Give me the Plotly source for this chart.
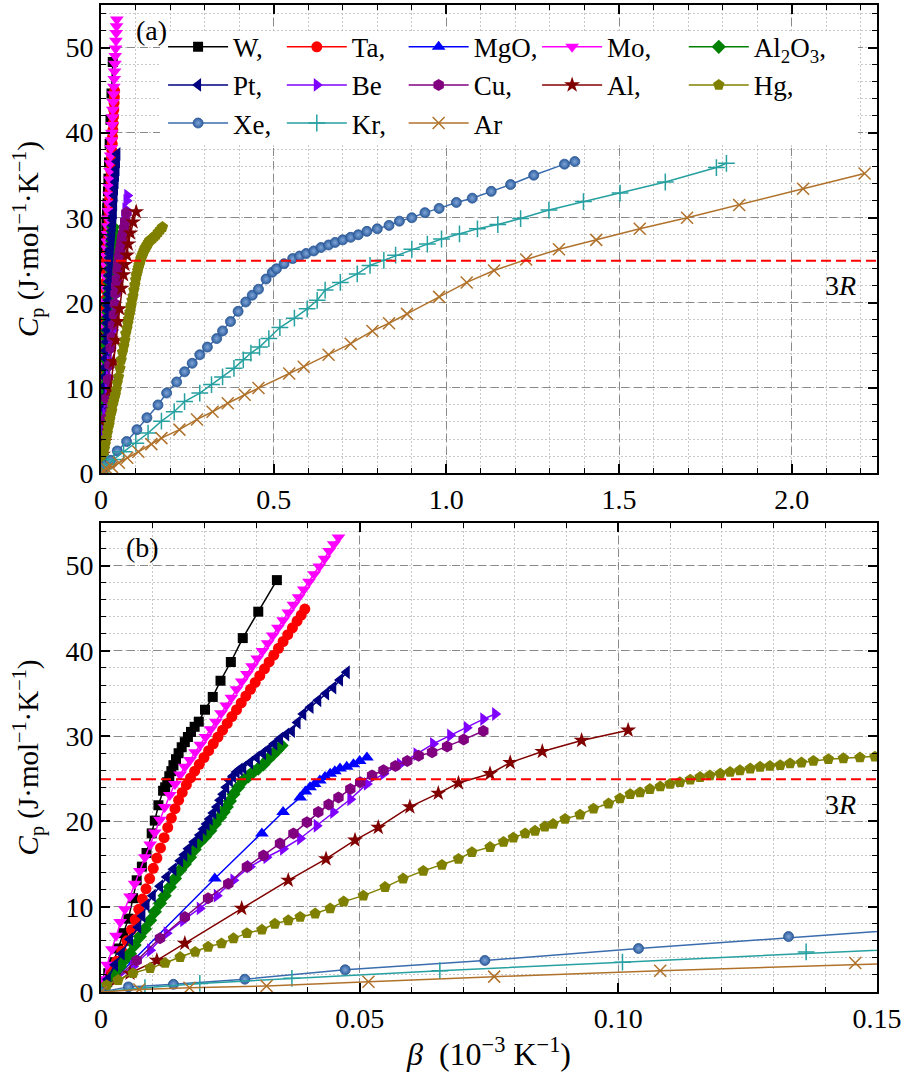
import plotly.graph_objects as go

R = 8.314  # gas constant, J/(mol K)

# ---------------- data: beta (1e-3 K^-1) vs Cp (J mol^-1 K^-1) ----------------
W_x = [0, 0.0014, 0.0024, 0.0033, 0.0043, 0.0053, 0.0062, 0.0069, 0.0079, 0.0088, 0.0098, 0.0104,
       0.0111, 0.0120, 0.0124, 0.0128, 0.0132, 0.0136, 0.0140, 0.0145, 0.0150, 0.0156, 0.0162, 0.0168,
       0.0174, 0.0181, 0.0189, 0.0201, 0.0216, 0.0231, 0.0251, 0.0274, 0.0304, 0.0340]
W_y = [0, 2.2, 3.5, 5.1, 6.9, 8.6, 11.0, 13.1, 14.7, 16.3, 18.6, 20.1,
       21.9, 23.6, 24.0, 24.6, 25.3, 25.9, 26.6, 27.3, 28.0, 28.7, 29.3, 29.9,
       30.5, 31.1, 31.7, 33.1, 34.6, 36.5, 38.7, 41.5, 44.6, 48.3]

Ta_x = [0, 0.0010, 0.0020, 0.0030, 0.0040, 0.0050, 0.0059, 0.0066, 0.0073, 0.0080, 0.0087, 0.0094,
        0.0101, 0.0108, 0.0115, 0.0122, 0.0129, 0.0136, 0.0143, 0.0150, 0.0157, 0.0165, 0.0173, 0.0181,
        0.0190, 0.0199, 0.0208, 0.0217, 0.0226, 0.0235, 0.0244, 0.0253, 0.0262, 0.0271, 0.0280, 0.0289,
        0.0298, 0.0307, 0.0316, 0.0325, 0.0334, 0.0343, 0.0352, 0.0361, 0.0370, 0.0379, 0.0387, 0.0394]
Ta_y = [0, 1.2, 2.4, 3.6, 4.8, 6.0, 7.3, 8.5, 9.7, 10.9, 12.1, 13.3,
        14.5, 15.7, 16.9, 18.1, 19.3, 20.4, 21.5, 22.5, 23.4, 24.3, 25.1, 25.9,
        26.7, 27.5, 28.3, 29.1, 29.9, 30.7, 31.5, 32.3, 33.1, 33.9, 34.7, 35.5,
        36.3, 37.1, 37.9, 38.7, 39.5, 40.3, 41.1, 41.9, 42.7, 43.5, 44.2, 44.9]

MgO_x = [0, 0.0062, 0.0220, 0.0311, 0.0352, 0.0385, 0.0395, 0.0404, 0.0413, 0.0423, 0.0433, 0.0443,
         0.0452, 0.0462, 0.0475, 0.0488, 0.0500, 0.0514]
MgO_y = [0, 3.7, 13.3, 18.6, 21.1, 22.8, 23.5, 24.0, 24.4, 24.8, 25.2, 25.6,
         25.9, 26.2, 26.4, 26.7, 27.1, 27.5]

Mo_x = [0, 0.0005, 0.0012, 0.0021, 0.0029, 0.0037, 0.0046, 0.0056, 0.0065, 0.0075, 0.0085, 0.0095,
        0.0104, 0.0114, 0.0123, 0.0133, 0.0143, 0.0153, 0.0162, 0.0172, 0.0182, 0.0192, 0.0202, 0.0212,
        0.0222, 0.0232, 0.0242, 0.0252, 0.0262, 0.0272, 0.0282, 0.0292, 0.0302, 0.0312, 0.0322, 0.0332,
        0.0342, 0.0352, 0.0362, 0.0372, 0.0382, 0.0392, 0.0402, 0.0412, 0.0422, 0.0432, 0.0441, 0.0450,
        0.0459]
Mo_y = [0, 1.5, 3.2, 5.0, 6.6, 8.2, 9.7, 11.2, 12.7, 14.2, 15.8, 17.3,
        18.7, 20.2, 21.7, 23.1, 24.4, 25.5, 26.4, 27.2, 28.1, 29.0, 29.9, 30.8,
        31.7, 32.7, 33.6, 34.5, 35.5, 36.4, 37.3, 38.2, 39.1, 40.0, 40.9, 41.8,
        42.7, 43.6, 44.5, 45.4, 46.3, 47.2, 48.1, 49.0, 49.9, 50.8, 51.7, 52.5,
        53.3]

Al2O3_x = [0, 0.0009, 0.0017, 0.0027, 0.0037, 0.0046, 0.0056, 0.0065, 0.0075, 0.0085, 0.0095, 0.0104,
           0.0114, 0.0123, 0.0133, 0.0143, 0.0153, 0.0162, 0.0172, 0.0181, 0.0191, 0.0201, 0.0211,
           0.0220, 0.0230, 0.0237, 0.0243, 0.0249, 0.0256, 0.0265, 0.0275, 0.0285, 0.0294, 0.0304,
           0.0314, 0.0323, 0.0333, 0.0341, 0.0349]
Al2O3_y = [0, 0.7, 1.4, 2.2, 3.0, 3.8, 4.5, 5.5, 6.5, 7.4, 8.4, 9.4,
           10.4, 11.3, 12.3, 13.3, 14.3, 15.0, 15.8, 16.7, 17.6, 18.2, 18.9,
           19.7, 20.5, 21.1, 21.7, 22.4, 23.2, 24.0, 24.8, 25.3, 25.8, 26.2,
           26.7, 27.3, 27.9, 28.4, 28.9]

Pt_x = [0, 0.0013, 0.0027, 0.0040, 0.0056, 0.0072, 0.0080, 0.0088, 0.0100, 0.0114, 0.0127, 0.0140,
        0.0153, 0.0161, 0.0169, 0.0180, 0.0191, 0.0198, 0.0204, 0.0210, 0.0217, 0.0224, 0.0230, 0.0236,
        0.0242, 0.0249, 0.0255, 0.0262, 0.0268, 0.0275, 0.0288, 0.0301, 0.0313, 0.0324, 0.0335, 0.0346,
        0.0358, 0.0369, 0.0380, 0.0391, 0.0405, 0.0420, 0.0435, 0.0449, 0.0462, 0.0475]
Pt_y = [0, 1.5, 3.2, 4.5, 6.2, 7.6, 8.9, 10.2, 11.3, 12.4, 13.5, 14.4,
        15.4, 16.1, 16.8, 17.6, 18.4, 19.1, 19.7, 20.3, 21.0, 21.7, 22.5, 23.2,
        24.0, 24.8, 25.3, 25.8, 26.1, 26.3, 26.9, 27.5, 28.0, 28.5, 29.1, 29.7,
        30.2, 30.6, 31.6, 32.6, 33.4, 34.2, 35.0, 35.7, 36.6, 37.5]

Be_x = [0, 0.0062, 0.0095, 0.0127, 0.0159, 0.0191, 0.0224, 0.0256, 0.0288, 0.0320, 0.0352, 0.0385,
        0.0417, 0.0449, 0.0482, 0.0514, 0.0546, 0.0578, 0.0610, 0.0642, 0.0675, 0.0707, 0.0739, 0.0762]
Be_y = [0, 3.0, 4.9, 6.9, 8.4, 9.8, 11.3, 13.1, 14.7, 15.8, 16.8, 18.0,
        19.5, 21.1, 22.6, 24.4, 25.6, 26.7, 27.9, 29.1, 30.1, 31.0, 32.0, 32.6]

Cu_x = [0, 0.0069, 0.0114, 0.0162, 0.0207, 0.0246, 0.0282, 0.0314, 0.0346, 0.0372, 0.0398, 0.0420,
        0.0440, 0.0459, 0.0482, 0.0501, 0.0524, 0.0546, 0.0569, 0.0592, 0.0614, 0.0640, 0.0669,
        0.0701, 0.0739]
Cu_y = [0, 3.7, 6.3, 8.8, 11.0, 12.7, 14.7, 16.0, 17.4, 18.6, 19.9, 21.1,
        22.0, 22.8, 23.8, 24.6, 25.4, 26.0, 26.5, 27.1, 27.7, 28.1, 28.8,
        29.6, 30.6]

Al_x = [0, 0.0056, 0.0108, 0.0162, 0.0272, 0.0362, 0.0435, 0.0491, 0.0536, 0.0597, 0.0652, 0.0691,
        0.0752, 0.0791, 0.0853, 0.0929, 0.1019]
Al_y = [0, 2.2, 3.7, 5.7, 9.8, 13.1, 15.6, 17.8, 19.3, 21.7, 23.3, 24.5,
        25.6, 26.9, 28.2, 29.5, 30.7]

Hg_x = [0, 0.0011, 0.0033, 0.0062, 0.0095, 0.0124, 0.0153, 0.0182, 0.0207, 0.0233, 0.0256, 0.0282,
        0.0311, 0.0336, 0.0362, 0.0385, 0.0414, 0.0443, 0.0469, 0.0507, 0.0549, 0.0584, 0.0623, 0.0659,
        0.0691, 0.0717, 0.0752, 0.0778, 0.0797, 0.0820, 0.0839, 0.0858, 0.0874, 0.0897, 0.0926, 0.0952,
        0.0981, 0.1003, 0.1023, 0.1042, 0.1061, 0.1081, 0.1100, 0.1119, 0.1139, 0.1158, 0.1177, 0.1197,
        0.1216, 0.1235, 0.1255, 0.1274, 0.1293, 0.1313, 0.1332, 0.1354, 0.1377, 0.1406, 0.1435, 0.1467,
        0.1496, 0.155, 0.160, 0.166, 0.172, 0.178]
Hg_y = [0, 0.8, 1.4, 2.2, 2.8, 3.4, 4.1, 4.7, 5.3, 5.7, 6.3, 6.9,
        7.3, 8.0, 8.4, 8.8, 9.2, 9.8, 10.6, 11.3, 12.3, 13.3, 14.2, 14.9,
        15.6, 16.4, 17.0, 17.6, 18.1, 18.6, 18.9, 19.4, 19.7, 20.3, 20.8, 21.5,
        22.1, 22.7, 23.2, 23.4, 23.8, 24.1, 24.4, 24.6, 24.9, 25.2, 25.4, 25.6,
        25.8, 26.0, 26.2, 26.4, 26.5, 26.6, 26.8, 26.9, 27.1, 27.3, 27.4, 27.5,
        27.6, 27.8, 28.0, 28.3, 28.6, 28.9]

Xe_x = [0, 0.0053, 0.0140, 0.0278, 0.0472, 0.0742, 0.1039, 0.1329, 0.165, 0.190, 0.219, 0.242,
        0.264, 0.286, 0.308, 0.335, 0.352, 0.375, 0.397, 0.419, 0.438, 0.456, 0.478, 0.496,
        0.508, 0.530, 0.555, 0.575, 0.594, 0.616, 0.637, 0.659, 0.678, 0.700, 0.723, 0.745,
        0.770, 0.800, 0.834, 0.864, 0.900, 0.938, 0.979, 1.029, 1.075, 1.130, 1.186, 1.253,
        1.342, 1.372]
Xe_y = [0, 0.6, 0.9, 1.5, 2.6, 3.7, 5.1, 6.5, 8.0, 9.4, 10.7, 11.9,
        12.9, 13.9, 14.8, 15.8, 16.7, 17.8, 19.0, 20.1, 20.9, 21.6, 22.8, 23.6,
        24.0, 24.6, 25.2, 25.5, 25.8, 26.1, 26.5, 26.8, 27.1, 27.4, 27.7, 28.0,
        28.4, 28.7, 29.1, 29.6, 30.0, 30.6, 31.1, 31.8, 32.3, 33.1, 33.9, 35.0,
        36.3, 36.6]

Kr_x = [0, 0.0085, 0.0191, 0.0369, 0.0655, 0.1008, 0.1363, 0.175, 0.212, 0.242, 0.286, 0.320,
        0.352, 0.385, 0.412, 0.434, 0.459, 0.486, 0.518, 0.560, 0.597, 0.626, 0.649, 0.693,
        0.742, 0.779, 0.819, 0.853, 0.900, 0.945, 0.986, 1.038, 1.090, 1.149, 1.215, 1.297,
        1.397, 1.503, 1.634, 1.782, 1.811]
Kr_y = [0, 0.5, 1.0, 1.6, 2.5, 3.5, 4.7, 6.1, 7.2, 8.4, 9.4, 10.4,
        11.3, 12.3, 13.3, 14.1, 14.8, 15.8, 17.1, 18.2, 19.3, 20.3, 21.5, 22.4,
        23.4, 24.4, 25.0, 25.6, 26.3, 26.9, 27.5, 28.1, 28.7, 29.2, 29.9, 30.9,
        31.9, 32.9, 34.2, 35.9, 36.4]

Ar_x = [0, 0.0074, 0.0171, 0.032, 0.0517, 0.076, 0.1081, 0.1458, 0.175, 0.227, 0.278, 0.323,
        0.367, 0.416, 0.456, 0.545, 0.587, 0.659, 0.723, 0.786, 0.834, 0.886, 0.979, 1.059,
        1.138, 1.231, 1.326, 1.434, 1.560, 1.697, 1.848, 2.033, 2.211]
Ar_y = [0, 0.3, 0.5, 0.7, 1.2, 1.8, 2.5, 3.4, 4.1, 5.1, 6.3, 7.2,
        8.2, 9.2, 10.0, 11.7, 12.5, 13.9, 15.2, 16.7, 17.6, 18.7, 20.7, 22.4,
        23.8, 25.1, 26.3, 27.4, 28.7, 30.0, 31.5, 33.4, 35.2]

names = ["W,", "Ta,", "MgO,", "Mo,", "Al<sub>2</sub>O<sub>3</sub>,", "Pt,", "Be", "Cu,", "Al,",
         "Hg,", "Xe,", "Kr,", "Ar"]
xs = [W_x, Ta_x, MgO_x, Mo_x, Al2O3_x, Pt_x, Be_x, Cu_x, Al_x, Hg_x, Xe_x, Kr_x, Ar_x]
ys = [W_y, Ta_y, MgO_y, Mo_y, Al2O3_y, Pt_y, Be_y, Cu_y, Al_y, Hg_y, Xe_y, Kr_y, Ar_y]
colors = ["#000000", "#ff0000", "#0000ff", "#ff00ff", "#008000", "#000080", "#8000ff", "#800080",
          "#800000", "#808000", "#3a6cae", "#26a0a0", "#b0722b"]
symbols = ["square", "circle", "triangle-up", "triangle-down", "diamond", "triangle-left",
           "triangle-right", "hexagon", "star", "pentagon", "circle", "cross-thin", "x-thin"]
sizes = [10, 11, 12, 12, 11, 12, 12, 12, 12, 12, 10, 12, 12]
# legend column for each series (5 columns, 3 rows, filled row by row)
legend_ids = ["legend", "legend2", "legend3", "legend4", "legend5",
              "legend", "legend2", "legend3", "legend4", "legend5",
              "legend", "legend2", "legend3"]

fig = go.Figure()
for panel, (xa, ya) in enumerate([("x", "y"), ("x2", "y2")]):
    for n, x, y, c, s, ms, lg in zip(names, xs, ys, colors, symbols, sizes, legend_ids):
        if s in ("cross-thin", "x-thin"):
            mk = dict(symbol=s, size=ms, color=c, line=dict(color=c, width=1.5))
        elif n.startswith("Xe"):
            mk = dict(symbol=s, size=ms, color="#2f5f9f", line=dict(color="#2a5594", width=0.8),
                      gradient=dict(type="radial", color="#7fa5d8"))
        else:
            mk = dict(symbol=s, size=ms, color=c, line=dict(width=0))
        fig.add_trace(go.Scatter(
            x=x, y=y, xaxis=xa, yaxis=ya, mode="lines+markers", name=n,
            legend=lg, showlegend=(panel == 0),
            line=dict(color=c, width=1.5), marker=mk))

FONT = "Liberation Serif, Times New Roman, DejaVu Serif, serif"
major_grid = dict(showgrid=True, gridcolor="#8a8a8a", griddash="8px,5px", gridwidth=1.2)
axis_common = dict(showline=True, linecolor="black", linewidth=2, mirror="ticks",
                   ticks="inside", ticklen=9, tickwidth=1.5, tickcolor="black",
                   zeroline=False, tickfont=dict(family=FONT, size=28, color="black"),
                   **major_grid)


def minor(dt):
    return dict(dtick=dt, tick0=0, ticks="inside", ticklen=5, tickwidth=1.2, tickcolor="black",
                showgrid=True, gridcolor="#c8c8c8", griddash="2px,2px", gridwidth=1)


def legend_at(x):
    return dict(orientation="v", x=x, xanchor="left", y=0.982, yanchor="top",
                bgcolor="rgba(0,0,0,0)", borderwidth=0, itemwidth=60, tracegroupgap=0,
                font=dict(family=FONT, size=27, color="black"), traceorder="normal")


ytitle = "<i>C</i><sub>p</sub> (J·mol<sup>−1</sup>·K<sup>−1</sup>)"
fig.update_layout(
    width=909, height=1075,
    margin=dict(l=101, r=32, t=3, b=83),
    paper_bgcolor="white", plot_bgcolor="white",
    font=dict(family=FONT, size=26, color="black"),
    xaxis=dict(domain=[0, 1], anchor="y", range=[0, 2.247],
               tickvals=[0, 0.5, 1.0, 1.5, 2.0], ticktext=["0", "0.5", "1.0", "1.5", "2.0"],
               minor=minor(0.1), **axis_common),
    yaxis=dict(domain=[0.5258, 1], anchor="x", range=[0, 55],
               tickvals=[0, 10, 20, 30, 40, 50], ticktext=["0", "10", "20", "30", "40", "50"],
               minor=minor(2), title=dict(text=ytitle, font=dict(family=FONT, size=29), standoff=18),
               **axis_common),
    xaxis2=dict(domain=[0, 1], anchor="y2", range=[0, 0.15],
                tickvals=[0, 0.05, 0.10, 0.15], ticktext=["0", "0.05", "0.10", "0.15"],
                minor=minor(0.01),
                title=dict(text="<i>β</i>  (10<sup>−3</sup> K<sup>−1</sup>)",
                           font=dict(family=FONT, size=32), standoff=10),
                **axis_common),
    yaxis2=dict(domain=[0, 0.4752], anchor="x2", range=[0, 55],
                tickvals=[0, 10, 20, 30, 40, 50], ticktext=["0", "10", "20", "30", "40", "50"],
                minor=minor(2), title=dict(text=ytitle, font=dict(family=FONT, size=29), standoff=18),
                **axis_common),
    legend=legend_at(0.080),
    legend2=legend_at(0.233),
    legend3=legend_at(0.390),
    legend4=legend_at(0.562),
    legend5=legend_at(0.751),
    showlegend=True,
)

# opaque white legend frame (legend background), paper coordinates
fig.add_shape(type="rect", xref="paper", yref="paper", x0=0.076, x1=0.9755, y0=0.8584, y1=0.9737,
              fillcolor="white", line=dict(width=0), layer="above")

for xr, yr in (("x", "y"), ("x2", "y2")):
    fig.add_shape(type="line", xref=f"{xr} domain", yref=yr, x0=0, x1=1, y0=3 * R, y1=3 * R,
                  line=dict(color="#ff0000", width=2, dash="10px,5px"), layer="above")
    fig.add_annotation(text="3<i>R</i>", xref=f"{xr} domain", yref=yr, x=0.976, y=3 * R - 2.9,
                       xanchor="right", yanchor="middle", showarrow=False,
                       font=dict(family=FONT, size=28, color="black"))

fig.add_annotation(text="(a)", xref="x domain", yref="y domain", x=0.043, y=0.982,
                   xanchor="left", yanchor="top", showarrow=False,
                   font=dict(family=FONT, size=28, color="black"))
fig.add_annotation(text="(b)", xref="x2 domain", yref="y2 domain", x=0.030, y=0.984,
                   xanchor="left", yanchor="top", showarrow=False,
                   font=dict(family=FONT, size=28, color="black"))

fig.write_html("out.html")
